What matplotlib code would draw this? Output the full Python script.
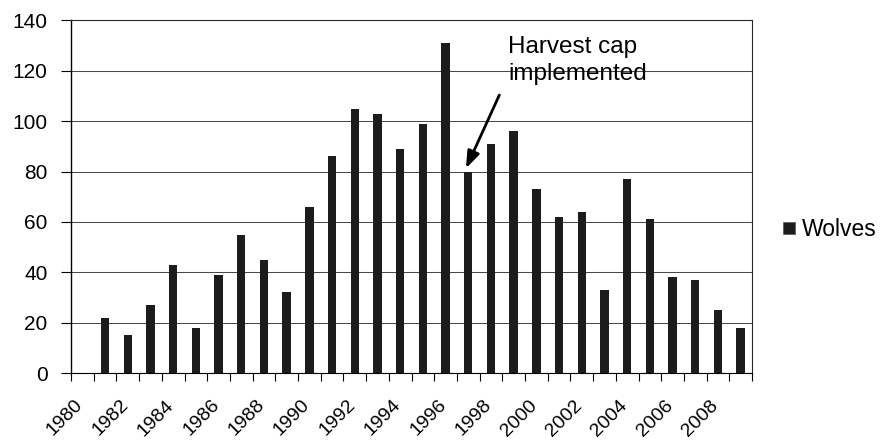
import numpy as np
import matplotlib
matplotlib.use("Agg")
import matplotlib.pyplot as plt
from matplotlib.patches import Patch
from matplotlib.transforms import ScaledTranslation

plt.rcParams['font.family'] = ['Liberation Sans', 'DejaVu Sans']

years = [1981, 1982, 1983, 1984, 1985, 1986, 1987, 1988, 1989, 1990,
         1991, 1992, 1993, 1994, 1995, 1996, 1997, 1998, 1999, 2000,
         2001, 2002, 2003, 2004, 2005, 2006, 2007, 2008, 2009]
wolves = [22, 15, 27, 43, 18, 39, 55, 45, 32, 66,
          86, 105, 103, 89, 99, 131, 80, 91, 96, 73,
          62, 64, 33, 77, 61, 38, 37, 25, 18]
label_years = list(range(1980, 2009, 2))
y_ticks = [0, 20, 40, 60, 80, 100, 120, 140]

W, H = 884, 448
fig = plt.figure(figsize=(W / 100, H / 100), dpi=100)
ax = fig.add_axes([71 / W, (H - 373) / H, (752 - 71) / W, (373 - 20.5) / H])

bar_color = '#1c1c1c'
ax.bar(years, wolves, width=0.37, color=bar_color, zorder=3, label='Wolves')

ax.set_xlim(1979.5, 2009.5)
ax.set_ylim(0, 140)
ax.set_yticks(y_ticks)
ax.yaxis.grid(True, color='#4a4a4a', lw=0.75, zorder=0)
ax.tick_params(axis='y', direction='out', length=7, width=0.8, pad=10, labelsize=15)

# boundary ticks (major) and labels (minor)
ax.set_xticks(np.arange(1979.5, 2010, 1))
ax.set_xticklabels([])
ax.tick_params(axis='x', which='major', direction='out', length=6, width=0.8)
ax.set_xticks(label_years, minor=True)
ax.set_xticklabels([str(y) for y in label_years], minor=True, rotation=45,
                   ha='right', fontsize=14)
ax.tick_params(axis='x', which='minor', length=0, pad=17)
for lab in ax.get_xticklabels(minor=True):
    lab.set_transform(lab.get_transform() + ScaledTranslation(4 / 100, 0, fig.dpi_scale_trans))

for s in ax.spines.values():
    s.set_color('#2a2a2a')
    s.set_linewidth(0.8)
ax.spines['left'].set_color('black')
ax.spines['left'].set_linewidth(1.0)
ax.spines['bottom'].set_color('black')

ax.annotate('', xy=(1996.9, 81.3), xytext=(1998.37, 110.4),
            arrowprops=dict(arrowstyle='-|>,head_length=0.6,head_width=0.22',
                            color='black', lw=2, mutation_scale=17,
                            shrinkA=0, shrinkB=0),
            zorder=5)
ax.text(1998.76, 127.1, 'Harvest cap', va='baseline', ha='left',
        fontsize=17.5, zorder=5)
ax.text(1998.76, 116.4, 'implemented', va='baseline', ha='left',
        fontsize=17.5, zorder=5)

fig.legend(handles=[Patch(facecolor=bar_color, edgecolor='#555555', lw=0.5)],
           labels=['Wolves'], loc='center left',
           bbox_to_anchor=(783 / W, 1 - 230 / H), frameon=False, fontsize=16.5,
           handlelength=0.52, handleheight=0.45, handletextpad=0.3,
           borderpad=0, borderaxespad=0)

fig.savefig('out.png', dpi=100)
